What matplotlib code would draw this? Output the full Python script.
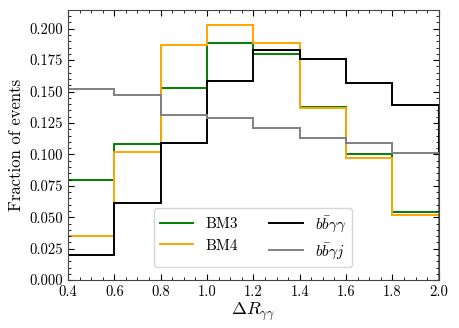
import numpy as np
import matplotlib
matplotlib.use("Agg")
import matplotlib.pyplot as plt

plt.rcParams['font.family'] = 'serif'
plt.rcParams['font.serif'] = ['cmr10']
plt.rcParams['mathtext.fontset'] = 'cm'
plt.rcParams['axes.formatter.use_mathtext'] = True

edges = [0.4, 0.6, 0.8, 1.0, 1.2, 1.4, 1.6, 1.8, 2.0]
bm3 = [0.080, 0.108, 0.153, 0.189, 0.180, 0.138, 0.100, 0.054]
bm4 = [0.035, 0.102, 0.187, 0.203, 0.189, 0.137, 0.097, 0.052]
bbaa = [0.020, 0.061, 0.109, 0.158, 0.183, 0.176, 0.157, 0.139]
bbaj = [0.152, 0.147, 0.131, 0.129, 0.121, 0.113, 0.109, 0.101]

fig = plt.figure(figsize=(4.59, 3.28), dpi=100)
ax = fig.add_axes([0.148, 0.146, 0.808, 0.824])

ax.stairs(bm3, edges, color='green', lw=1.4, label='BM3')
ax.stairs(bm4, edges, color='orange', lw=1.4, label='BM4')
ax.stairs(bbaa, edges, color='black', lw=1.4, label=r'$b\bar{b}\gamma\gamma$')
ax.stairs(bbaj, edges, color='gray', lw=1.4, label=r'$b\bar{b}\gamma j$')

ax.set_xlim(0.4, 2.0)
ax.set_ylim(0, 0.215)
ax.set_xticks(np.arange(0.4, 2.01, 0.2))
ax.set_yticks(np.arange(0, 0.201, 0.025))
ax.set_xticklabels([f"{v:.1f}" for v in np.arange(0.4, 2.01, 0.2)])
ax.set_yticklabels([f"{v:.3f}" for v in np.arange(0, 0.201, 0.025)])
ax.minorticks_on()
ax.tick_params(which='both', direction='in', top=True, right=True, labelsize=10.5)
ax.tick_params(which='major', length=4)
ax.tick_params(which='minor', length=2)
for s in ax.spines.values():
    s.set_color('#444444')

ax.set_xlabel(r'$\Delta R_{\gamma\gamma}$', fontsize=13, labelpad=1)
ax.set_ylabel('Fraction of events', fontsize=12)

ax.legend(ncol=2, loc='lower center', bbox_to_anchor=(0.499, 0.02), fontsize=11,
          columnspacing=2.0, handlelength=2.2)

fig.savefig('out.png', dpi=100)
